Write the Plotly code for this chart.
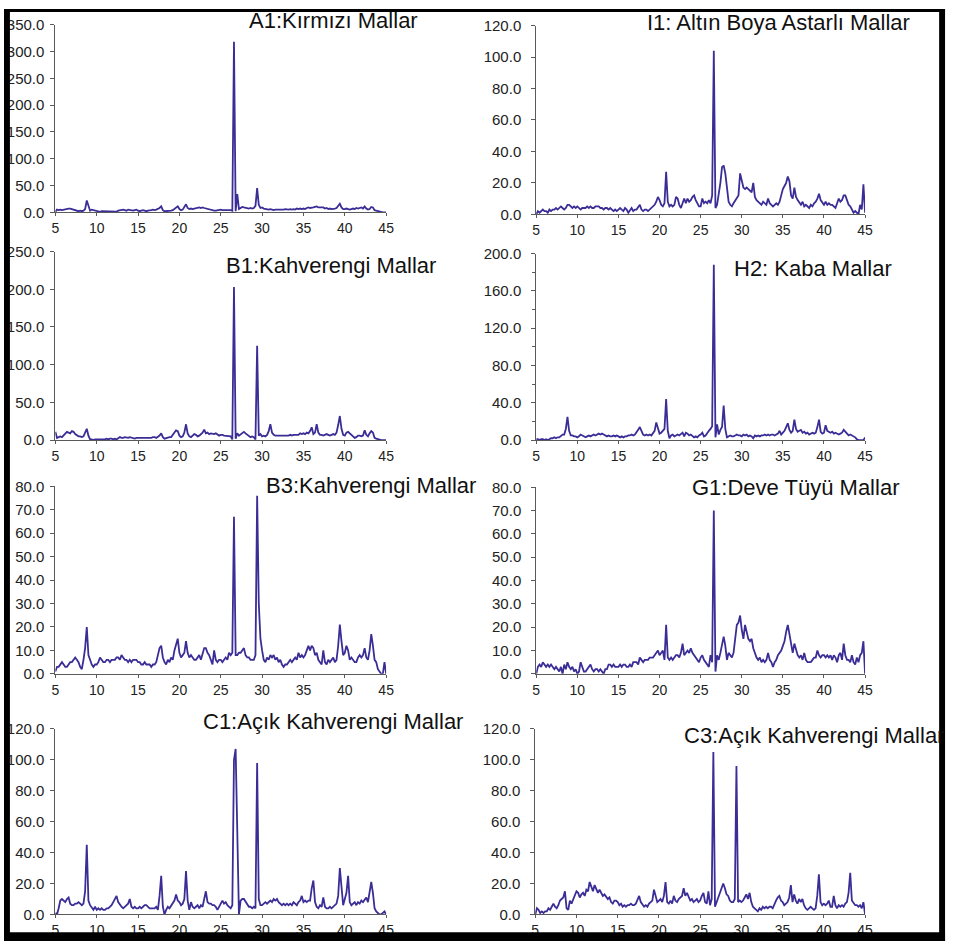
import plotly.graph_objects as go

W, H = 957, 949

# 2-theta scan positions (degrees), 0.2 degree step
two_theta = [
    5.0, 5.2, 5.4, 5.6, 5.8, 6.0, 6.2, 6.4, 6.6, 6.8,
    7.0, 7.2, 7.4, 7.6, 7.8, 8.0, 8.2, 8.4, 8.6, 8.8,
    9.0, 9.2, 9.4, 9.6, 9.8, 10.0, 10.2, 10.4, 10.6, 10.8,
    11.0, 11.2, 11.4, 11.6, 11.8, 12.0, 12.2, 12.4, 12.6, 12.8,
    13.0, 13.2, 13.4, 13.6, 13.8, 14.0, 14.2, 14.4, 14.6, 14.8,
    15.0, 15.2, 15.4, 15.6, 15.8, 16.0, 16.2, 16.4, 16.6, 16.8,
    17.0, 17.2, 17.4, 17.6, 17.8, 18.0, 18.2, 18.4, 18.6, 18.8,
    19.0, 19.2, 19.4, 19.6, 19.8, 20.0, 20.2, 20.4, 20.6, 20.8,
    21.0, 21.2, 21.4, 21.6, 21.8, 22.0, 22.2, 22.4, 22.6, 22.8,
    23.0, 23.2, 23.4, 23.6, 23.8, 24.0, 24.2, 24.4, 24.6, 24.8,
    25.0, 25.2, 25.4, 25.6, 25.8, 26.0, 26.2, 26.4, 26.6, 26.8,
    27.0, 27.2, 27.4, 27.6, 27.8, 28.0, 28.2, 28.4, 28.6, 28.8,
    29.0, 29.2, 29.4, 29.6, 29.8, 30.0, 30.2, 30.4, 30.6, 30.8,
    31.0, 31.2, 31.4, 31.6, 31.8, 32.0, 32.2, 32.4, 32.6, 32.8,
    33.0, 33.2, 33.4, 33.6, 33.8, 34.0, 34.2, 34.4, 34.6, 34.8,
    35.0, 35.2, 35.4, 35.6, 35.8, 36.0, 36.2, 36.4, 36.6, 36.8,
    37.0, 37.2, 37.4, 37.6, 37.8, 38.0, 38.2, 38.4, 38.6, 38.8,
    39.0, 39.2, 39.4, 39.6, 39.8, 40.0, 40.2, 40.4, 40.6, 40.8,
    41.0, 41.2, 41.4, 41.6, 41.8, 42.0, 42.2, 42.4, 42.6, 42.8,
    43.0, 43.2, 43.4, 43.6, 43.8, 44.0, 44.2, 44.4, 44.6, 44.8,
    45.0,
]

# Intensities (counts) per sample
a1_kirmizi = [
    1, 5, 4, 5, 4, 5, 5, 6, 7, 7,
    6, 4, 3, 2, 2, 3, 2, 3, 6, 22,
    10, 3, 5, 4, 3, 2, 2, 1, 2, 2,
    1, 2, 1, 2, 1, 2, 2, 1, 3, 4,
    4, 5, 4, 3, 5, 4, 4, 3, 4, 5,
    3, 2, 3, 4, 3, 2, 3, 3, 4, 5,
    4, 5, 6, 8, 11, 4, 2, 2, 3, 3,
    3, 4, 6, 9, 11, 6, 4, 5, 9, 15,
    8, 6, 7, 6, 7, 8, 8, 9, 8, 9,
    8, 7, 6, 5, 4, 4, 3, 3, 4, 4,
    5, 4, 4, 5, 4, 5, 4, 3, 318, 2,
    34, 6, 8, 10, 9, 8, 7, 7, 8, 7,
    8, 12, 45, 14, 8, 9, 7, 6, 6, 5,
    6, 5, 4, 5, 5, 4, 4, 5, 5, 6,
    5, 5, 6, 5, 6, 5, 7, 6, 7, 6,
    7, 6, 8, 9, 8, 8, 9, 10, 11, 9,
    9, 8, 9, 7, 8, 6, 7, 6, 6, 7,
    8, 12, 16, 9, 6, 6, 7, 6, 5, 6,
    7, 6, 8, 7, 8, 9, 7, 11, 7, 5,
    6, 10, 9, 4, 3, 2, 1, 1, 0, 0,
    0,
]

i1_altin_boya = [
    0, 2, 1, 2, 3, 2, 2, 1, 3, 2,
    3, 3, 4, 3, 4, 5, 4, 3, 4, 6,
    6, 5, 4, 5, 4, 5, 4, 3, 4, 4,
    4, 5, 4, 5, 4, 4, 5, 5, 5, 4,
    4, 3, 4, 4, 3, 4, 3, 2, 3, 2,
    3, 4, 3, 2, 4, 3, 1, 3, 4, 2,
    3, 3, 5, 6, 3, 2, 3, 3, 2, 3,
    4, 5, 6, 8, 11, 9, 6, 5, 7, 27,
    8, 5, 6, 5, 6, 11, 10, 6, 4, 7,
    10, 7, 10, 8, 9, 11, 12, 9, 7, 5,
    5, 10, 7, 8, 7, 9, 7, 12, 104, 4,
    6, 12, 20, 30, 31, 26, 15, 8, 6, 5,
    7, 9, 11, 12, 26, 22, 17, 16, 17, 16,
    15, 14, 20, 11, 9, 8, 7, 6, 8, 7,
    6, 10, 7, 6, 5, 6, 7, 6, 8, 12,
    16, 18, 20, 24, 21, 12, 10, 17, 11, 9,
    7, 6, 8, 5, 6, 5, 4, 6, 5, 7,
    8, 10, 13, 9, 7, 6, 8, 6, 7, 6,
    6, 5, 4, 7, 10, 8, 9, 12, 12, 9,
    6, 5, 3, 1, 2, 1, 0, 6, 3, 19,
    1,
]

b1_kahverengi = [
    11, 3, 4, 5, 4, 6, 8, 11, 10, 9,
    12, 11, 8, 6, 5, 5, 4, 5, 10, 15,
    6, 1, 1, 0, 1, 1, 1, 0, 1, 1,
    1, 2, 1, 2, 2, 1, 2, 1, 3, 4,
    3, 3, 4, 3, 3, 4, 3, 3, 2, 3,
    3, 3, 2, 2, 2, 3, 3, 3, 3, 4,
    4, 3, 4, 6, 9, 4, 2, 3, 3, 4,
    4, 7, 10, 13, 12, 6, 4, 5, 10, 21,
    9, 5, 4, 6, 8, 7, 5, 6, 8, 10,
    14, 9, 10, 8, 9, 8, 8, 9, 7, 6,
    7, 7, 6, 6, 5, 6, 5, 1, 203, 2,
    9, 6, 8, 10, 11, 9, 7, 6, 4, 5,
    4, 1, 125, 6, 8, 5, 6, 5, 7, 12,
    21, 10, 7, 6, 6, 5, 5, 6, 5, 6,
    6, 6, 7, 6, 7, 7, 8, 7, 9, 8,
    9, 8, 10, 9, 12, 17, 8, 10, 21, 10,
    7, 7, 6, 7, 8, 7, 6, 7, 8, 7,
    10, 20, 32, 15, 7, 6, 10, 11, 9, 7,
    5, 3, 4, 6, 6, 5, 6, 13, 7, 5,
    9, 12, 10, 3, 2, 1, 0, 0, 0, 0,
    0,
]

h2_kaba = [
    1, 1, 0, 1, 1, 0, 1, 0, 1, 2,
    2, 3, 2, 3, 3, 5, 6, 6, 12, 25,
    10, 5, 5, 4, 4, 3, 4, 6, 5, 4,
    3, 4, 5, 4, 5, 6, 5, 6, 7, 6,
    7, 6, 5, 4, 5, 4, 4, 5, 4, 5,
    4, 3, 4, 3, 4, 4, 5, 5, 6, 5,
    6, 8, 11, 14, 10, 6, 5, 6, 5, 6,
    5, 7, 10, 19, 12, 7, 8, 10, 12, 44,
    10, 2, 5, 6, 4, 5, 6, 5, 7, 8,
    4, 8, 7, 5, 6, 4, 3, 4, 3, 5,
    6, 8, 4, 5, 8, 10, 12, 15, 188, 3,
    17, 6, 11, 14, 37, 12, 3, 4, 5, 4,
    4, 5, 6, 5, 5, 4, 6, 5, 6, 4,
    5, 4, 2, 5, 4, 5, 4, 5, 5, 6,
    5, 6, 5, 6, 6, 5, 6, 7, 10, 6,
    8, 10, 14, 18, 11, 8, 10, 22, 12, 9,
    10, 11, 8, 9, 7, 8, 6, 7, 8, 7,
    8, 14, 22, 9, 7, 8, 16, 10, 9, 8,
    9, 7, 8, 7, 6, 7, 8, 11, 9, 6,
    5, 6, 5, 4, 3, 1, 0, 0, 0, 0,
    3,
]

b3_kahverengi = [
    1, 3, 3, 4, 5, 4, 3, 3, 4, 5,
    5, 6, 7, 6, 5, 3, 2, 6, 11, 20,
    8, 6, 4, 3, 4, 4, 5, 7, 6, 5,
    5, 6, 6, 5, 6, 6, 6, 7, 7, 6,
    8, 7, 6, 6, 5, 6, 5, 6, 6, 6,
    5, 5, 4, 4, 5, 4, 4, 4, 3, 4,
    4, 5, 8, 11, 12, 7, 5, 4, 6, 5,
    7, 6, 10, 13, 15, 9, 7, 8, 9, 14,
    9, 7, 8, 7, 6, 6, 7, 8, 6, 9,
    11, 11, 9, 8, 6, 4, 10, 6, 5, 6,
    6, 5, 6, 7, 6, 9, 8, 9, 67, 8,
    8, 9, 9, 10, 11, 8, 7, 7, 6, 6,
    6, 8, 76, 30, 15, 10, 6, 5, 7, 6,
    8, 7, 8, 6, 7, 5, 6, 4, 3, 4,
    4, 5, 6, 5, 6, 7, 6, 9, 7, 8,
    7, 8, 10, 12, 10, 12, 11, 8, 9, 6,
    5, 4, 10, 5, 4, 6, 5, 6, 7, 5,
    6, 12, 21, 14, 8, 9, 12, 10, 6, 7,
    6, 5, 5, 7, 8, 7, 8, 11, 7, 6,
    10, 17, 12, 6, 5, 2, 1, 0, 0, 5,
    0,
]

g1_deve_tuyu = [
    0, 3, 4, 3, 5, 4, 3, 4, 3, 4,
    3, 2, 3, 2, 1, 3, 0, 4, 2, 5,
    3, 2, 3, 1, 2, 0, 1, 5, 3, 1,
    1, 2, 3, 4, 2, 1, 2, 2, 1, 2,
    1, 0, 2, 2, 4, 4, 3, 4, 3, 3,
    3, 4, 3, 4, 4, 3, 3, 4, 3, 5,
    5, 5, 4, 7, 6, 5, 6, 6, 6, 7,
    7, 7, 8, 9, 10, 8, 9, 10, 6, 21,
    7, 6, 7, 6, 7, 8, 8, 7, 9, 13,
    8, 9, 10, 9, 11, 9, 8, 7, 6, 5,
    7, 8, 6, 5, 4, 3, 8, 5, 70, 1,
    8, 6, 9, 12, 16, 12, 6, 9, 8, 7,
    9, 14, 21, 22, 25, 19, 15, 21, 18, 15,
    14, 15, 11, 9, 7, 6, 7, 5, 6, 5,
    6, 9, 6, 5, 3, 5, 6, 8, 9, 10,
    12, 14, 18, 21, 17, 12, 9, 13, 10, 8,
    7, 8, 6, 9, 6, 5, 5, 5, 6, 7,
    7, 10, 8, 7, 8, 8, 7, 8, 7, 8,
    6, 8, 7, 5, 8, 9, 6, 13, 8, 6,
    6, 5, 8, 5, 4, 7, 5, 8, 9, 14,
    0,
]

c1_acik_kahverengi = [
    1, 0, 4, 9, 10, 9, 8, 10, 11, 7,
    6, 6, 7, 7, 8, 7, 6, 7, 15, 45,
    9, 6, 4, 3, 5, 3, 4, 3, 4, 3,
    3, 4, 4, 5, 6, 8, 10, 12, 8, 6,
    5, 4, 5, 6, 7, 10, 5, 4, 5, 4,
    4, 5, 4, 5, 6, 6, 5, 4, 4, 4,
    4, 5, 3, 12, 25, 5, 0, 3, 5, 4,
    6, 7, 9, 13, 9, 8, 6, 7, 10, 28,
    9, 3, 8, 5, 4, 5, 6, 4, 6, 5,
    11, 15, 8, 7, 7, 6, 6, 5, 3, 5,
    8, 9, 7, 8, 6, 5, 4, 6, 100, 107,
    38, 0, 9, 10, 10, 8, 6, 5, 5, 4,
    5, 4, 98, 10, 6, 6, 7, 8, 7, 8,
    9, 8, 10, 9, 10, 8, 7, 6, 7, 6,
    7, 6, 7, 6, 8, 7, 6, 8, 9, 12,
    8, 9, 8, 9, 9, 17, 22, 8, 5, 4,
    6, 5, 11, 5, 4, 4, 5, 4, 5, 6,
    7, 12, 30, 18, 6, 10, 14, 25, 8, 6,
    7, 8, 6, 8, 7, 9, 8, 10, 11, 8,
    15, 21, 14, 4, 2, 1, 0, 0, 1, 2,
    0,
]

c3_acik_kahverengi = [
    0, 4, 3, 1, 2, 1, 2, 2, 4, 3,
    5, 7, 5, 4, 6, 9, 10, 11, 15, 4,
    3, 9, 7, 10, 12, 15, 14, 11, 13, 14,
    12, 16, 15, 21, 18, 15, 19, 16, 14, 16,
    14, 12, 13, 11, 10, 11, 8, 7, 9, 9,
    8, 6, 7, 5, 6, 5, 6, 6, 7, 6,
    6, 7, 9, 12, 8, 6, 5, 6, 5, 7,
    8, 9, 16, 11, 8, 9, 10, 8, 12, 21,
    8, 7, 9, 7, 12, 9, 8, 10, 11, 12,
    17, 12, 14, 11, 9, 10, 8, 9, 10, 8,
    9, 12, 14, 8, 7, 15, 6, 10, 105, 5,
    8, 12, 14, 18, 20, 17, 13, 12, 9, 8,
    8, 10, 96, 8, 9, 8, 9, 11, 13, 10,
    14, 8, 5, 4, 3, 2, 4, 3, 5, 4,
    5, 4, 5, 5, 4, 7, 9, 11, 12, 9,
    8, 6, 7, 8, 11, 19, 8, 13, 9, 7,
    10, 8, 10, 6, 4, 3, 4, 5, 4, 3,
    4, 12, 26, 8, 6, 7, 6, 7, 9, 5,
    5, 12, 6, 4, 6, 5, 6, 5, 7, 8,
    14, 27, 9, 7, 6, 6, 5, 6, 4, 8,
    0,
]

titles = [
    "A1:Kırmızı Mallar", "I1: Altın Boya Astarlı Mallar",
    "B1:Kahverengi Mallar", "H2: Kaba Mallar",
    "B3:Kahverengi Mallar", "G1:Deve Tüyü Mallar",
    "C1:Açık Kahverengi Mallar", "C3:Açık Kahverengi Mallar",
]
series = [
    a1_kirmizi, i1_altin_boya,
    b1_kahverengi, h2_kaba,
    b3_kahverengi, g1_deve_tuyu,
    c1_acik_kahverengi, c3_acik_kahverengi,
]
y_max = [350, 120, 250, 200, 80, 80, 120, 120]
y_step = [50, 20, 50, 40, 10, 10, 20, 20]
y_minor = [None, None, None, 20, None, None, None, None]
x_ticks = [5, 10, 15, 20, 25, 30, 35, 40, 45]

# plot boxes in pixels: (left, right, top, bottom)
boxes = [
    (52, 387, 16, 207), (539, 872, 17, 209),
    (52, 387, 247, 439), (539, 872, 249, 439),
    (52, 387, 486, 677), (539, 872, 487, 677),
    (52, 387, 733, 922), (538, 872, 733, 922),
]
# gap between y tick marks and their labels, per column
label_gap = [3, 7, 3, 7, 3, 7, 3, 7]
# title anchor (left x, vertical centre) in pixels
title_pos = [
    (246, 12), (649, 14),
    (223, 261), (737, 264),
    (263, 485), (695, 487),
    (199, 726), (687, 740),
]

LINE = "#3a2d96"
AXIS = "#5a5a5a"
FONT = "Liberation Sans, Arial, sans-serif"

fig = go.Figure()
layout = dict(
    width=W, height=H,
    margin=dict(l=0, r=0, t=0, b=0),
    paper_bgcolor="white", plot_bgcolor="white",
    showlegend=False,
    font=dict(family=FONT, color="#222222"),
)

annotations = []
for i, (ys, box) in enumerate(zip(series, boxes)):
    n = "" if i == 0 else str(i + 1)
    l, r, t, b = box
    fig.add_trace(go.Scatter(
        x=two_theta, y=ys, mode="lines",
        line=dict(color=LINE, width=1.8),
        xaxis="x" + n, yaxis="y" + n,
        hoverinfo="skip",
    ))
    layout["xaxis" + n] = dict(
        domain=[l / W, r / W], anchor="y" + n,
        range=[5, 45], tickmode="array", tickvals=x_ticks,
        ticks="outside", ticklen=3, tickcolor=AXIS, tickwidth=1,
        showline=True, linecolor=AXIS, linewidth=1,
        showgrid=False, zeroline=False,
        tickfont=dict(family=FONT, size=14, color="#222222"),
    )
    yax = dict(
        domain=[1 - b / H, 1 - t / H], anchor="x" + n,
        range=[0, y_max[i]], tick0=0, dtick=y_step[i], tickformat=".1f",
        ticks="outside", ticklen=4, tickcolor=AXIS, tickwidth=1,
        showline=True, linecolor=AXIS, linewidth=1,
        showgrid=False, zeroline=False,
        ticklabelstandoff=label_gap[i],
        tickfont=dict(family=FONT, size=15, color="#222222"),
    )
    if y_minor[i]:
        yax["minor"] = dict(dtick=y_minor[i], ticks="outside", ticklen=3,
                            tickcolor=AXIS, showgrid=False)
    layout["yaxis" + n] = yax
    tx, ty = title_pos[i]
    annotations.append(dict(
        text=titles[i], x=tx / W, y=1 - ty / H, xref="paper", yref="paper",
        xanchor="left", yanchor="middle", showarrow=False,
        font=dict(family=FONT, size=22, color="#111111"),
    ))

layout["annotations"] = annotations

# heavy black frame around the whole panel
frame = [(0, 953, 0, 3), (0, 6, 0, 949), (947, 953, 0, 949), (0, 953, 940, 949)]
layout["shapes"] = [
    dict(type="rect", xref="paper", yref="paper", layer="above",
         x0=x0 / W, x1=x1 / W, y0=1 - y1 / H, y1=1 - y0 / H,
         fillcolor="black", line=dict(width=0))
    for x0, x1, y0, y1 in frame
]

fig.update_layout(**layout)
# place the figure flush with the page corner
fig.write_html(
    "out.html",
    post_script="document.body.style.margin='0';document.body.style.overflow='hidden';",
)
